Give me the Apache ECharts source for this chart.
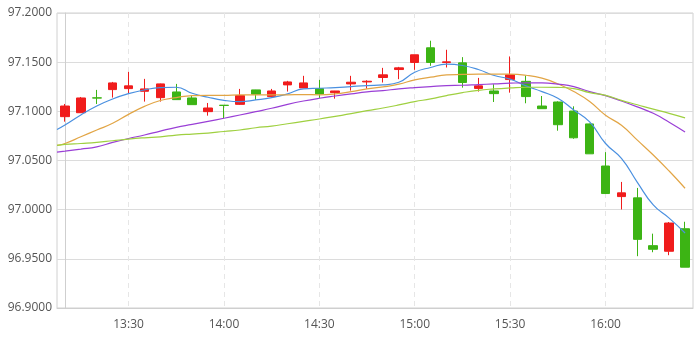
<!DOCTYPE html>
<html>
<head>
<meta charset="utf-8">
<script src="https://cdn.jsdelivr.net/npm/echarts@6/dist/echarts.min.js"></script>
<style>html,body{margin:0;padding:0;background:#fff;}#c{width:699px;height:338px;}</style>
</head>
<body>
<div id="c"></div>
<script>
var categories = ['13:10','13:15','13:20','13:25','13:30','13:35','13:40','13:45','13:50','13:55',
  '14:00','14:05','14:10','14:15','14:20','14:25','14:30','14:35','14:40','14:45',
  '14:50','14:55','15:00','15:05','15:10','15:15','15:20','15:25','15:30','15:35',
  '15:40','15:45','15:50','15:55','16:00','16:05','16:10','16:15','16:20','16:25'];
var opens  = [97.0946,97.0986,97.1137,97.1221,97.1231,97.1204,97.1139,97.1197,97.1136,97.0997,
  97.1062,97.1071,97.1218,97.1150,97.1269,97.1238,97.1231,97.1190,97.1279,97.1299,
  97.1344,97.1425,97.1497,97.1646,97.1497,97.1493,97.1233,97.1207,97.1323,97.1305,
  97.1054,97.1095,97.1003,97.0872,97.0444,97.0133,97.0120,96.9634,96.9577,96.9806];
var closes = [97.1054,97.1136,97.1135,97.1289,97.1259,97.1228,97.1279,97.1119,97.1068,97.1034,
  97.1060,97.1160,97.1174,97.1207,97.1299,97.1289,97.1177,97.1207,97.1296,97.1306,
  97.1371,97.1442,97.1575,97.1497,97.1503,97.1293,97.1259,97.1180,97.1371,97.1150,
  97.1027,97.0864,97.0731,97.0568,97.0164,97.0171,96.9698,96.9597,96.9864,96.9415];
var lows   = [97.0895,97.0985,97.1075,97.1140,97.1177,97.1099,97.1099,97.1119,97.1068,97.0956,
  97.0929,97.1066,97.1116,97.1150,97.1201,97.1238,97.1136,97.1129,97.1211,97.1231,
  97.1293,97.1327,97.1422,97.1463,97.1446,97.1241,97.1201,97.1095,97.1190,97.1082,
  97.1027,97.0803,97.0721,97.0568,97.0164,97.0002,96.9527,96.9567,96.9537,96.9415];
var highs  = [97.1075,97.1146,97.1218,97.1299,97.1401,97.1330,97.1282,97.1279,97.1163,97.1085,
  97.1062,97.1228,97.1219,97.1228,97.1310,97.1361,97.1320,97.1208,97.1361,97.1316,
  97.1442,97.1452,97.1576,97.1718,97.1626,97.1551,97.1340,97.1276,97.1558,97.1364,
  97.1156,97.1102,97.1051,97.0875,97.0585,97.0282,97.0221,96.9756,96.9874,96.9877];
// moving-average lines: value at the left plot edge, then one value per candle
var ma5Edge = 97.0815, ma10Edge = 97.0653, ma20Edge = 97.0585, ma30Edge = 97.0653;
var ma5  = [97.0861,97.0963,97.1054,97.1126,97.1180,97.1218,97.1241,97.1245,97.1184,97.1143,
  97.1112,97.1099,97.1116,97.1139,97.1177,97.1228,97.1235,97.1241,97.1252,97.1262,
  97.1269,97.1296,97.1398,97.1446,97.1480,97.1466,97.1425,97.1364,97.1327,97.1259,
  97.1201,97.1133,97.1014,97.0892,97.0673,97.0521,97.0278,97.0049,96.9914,96.9763];
var ma10 = [97.0673,97.0741,97.0810,97.0878,97.0969,97.1050,97.1110,97.1140,97.1160,97.1163,
  97.1163,97.1167,97.1167,97.1167,97.1168,97.1170,97.1168,97.1177,97.1201,97.1228,
  97.1248,97.1276,97.1320,97.1347,97.1371,97.1375,97.1378,97.1378,97.1378,97.1367,
  97.1337,97.1279,97.1201,97.1100,97.0960,97.0858,97.0707,97.0556,97.0393,97.0218];
var ma20 = [97.0595,97.0616,97.0639,97.0684,97.0724,97.0759,97.0799,97.0837,97.0867,97.0898,
  97.0930,97.0963,97.0997,97.1031,97.1071,97.1105,97.1133,97.1156,97.1177,97.1197,
  97.1211,97.1228,97.1241,97.1252,97.1262,97.1265,97.1272,97.1279,97.1286,97.1290,
  97.1289,97.1276,97.1252,97.1200,97.1160,97.1105,97.1045,97.0980,97.0890,97.0790];
var ma30 = [97.0663,97.0673,97.0684,97.0701,97.0718,97.0731,97.0741,97.0758,97.0769,97.0779,
  97.0795,97.0810,97.0833,97.0850,97.0874,97.0898,97.0922,97.0949,97.0976,97.1007,
  97.1034,97.1065,97.1099,97.1126,97.1160,97.1190,97.1214,97.1228,97.1238,97.1245,
  97.1245,97.1243,97.1231,97.1190,97.1163,97.1112,97.1067,97.1022,97.0980,97.0934];
var yMin = 96.9, yMax = 97.2, yStep = 0.05;

var kData = opens.map(function (o, i) { return [o, closes[i], lows[i], highs[i]]; });
var showIdx = function (i) { return i % 6 === 4; };
var n = categories.length;
var lineSeries = function (name, edge, data, color) {
  var pts = [[-0.5, edge]].concat(data.map(function (v, i) { return [i, v]; }));
  return { name: name, type: 'line', xAxisIndex: 1, data: pts, smooth: true, symbol: 'none',
    lineStyle: { width: 1.2, color: color }, itemStyle: { color: color }, z: 3 };
};

var chart = echarts.init(document.getElementById('c'), null, { renderer: 'canvas' });
chart.setOption({
  animation: false,
  backgroundColor: '#fff',
  grid: { left: 57, right: 6, top: 13, bottom: 30, show: true, borderColor: '#d0d0d0', borderWidth: 1 },
  xAxis: [{
    type: 'category', data: categories, boundaryGap: true,
    axisLine: { show: true, lineStyle: { color: '#cfcfcf' } },
    axisTick: { show: false, alignWithLabel: true, interval: function (i) { return showIdx(i); } },
    axisLabel: { interval: function (i) { return showIdx(i); }, color: '#555', fontSize: 12,
      fontFamily: 'Open Sans', margin: 11 },
    splitLine: { show: true, alignWithLabel: true, interval: function (i) { return showIdx(i); },
      lineStyle: { color: '#e6e6e6', type: [5, 4], width: 1 } }
  }, {
    type: 'value', min: -0.5, max: n - 0.5, show: false,
    splitLine: { show: false }
  }],
  yAxis: {
    type: 'value', min: yMin, max: yMax, interval: yStep, scale: true,
    axisLine: { show: true, lineStyle: { color: '#cfcfcf' } },
    axisTick: { show: false },
    axisLabel: { color: '#555', fontSize: 12, fontFamily: 'Open Sans', margin: 5,
      formatter: function (v) { return v.toFixed(4); } },
    splitLine: { show: true, lineStyle: { color: '#dcdcdc', width: 1 } }
  },
  series: [
    { name: 'K', type: 'candlestick', data: kData, barWidth: 9, z: 2,
      itemStyle: { color: '#f01c1c', color0: '#3cb414', borderColor: '#f01c1c', borderColor0: '#3cb414', borderWidth: 1 } },
    lineSeries('MA5', ma5Edge, ma5, '#4a90e0'),
    lineSeries('MA10', ma10Edge, ma10, '#e2a545'),
    lineSeries('MA20', ma20Edge, ma20, '#9a3fd6'),
    lineSeries('MA30', ma30Edge, ma30, '#9fd040')
  ]
});
</script>
</body>
</html>
